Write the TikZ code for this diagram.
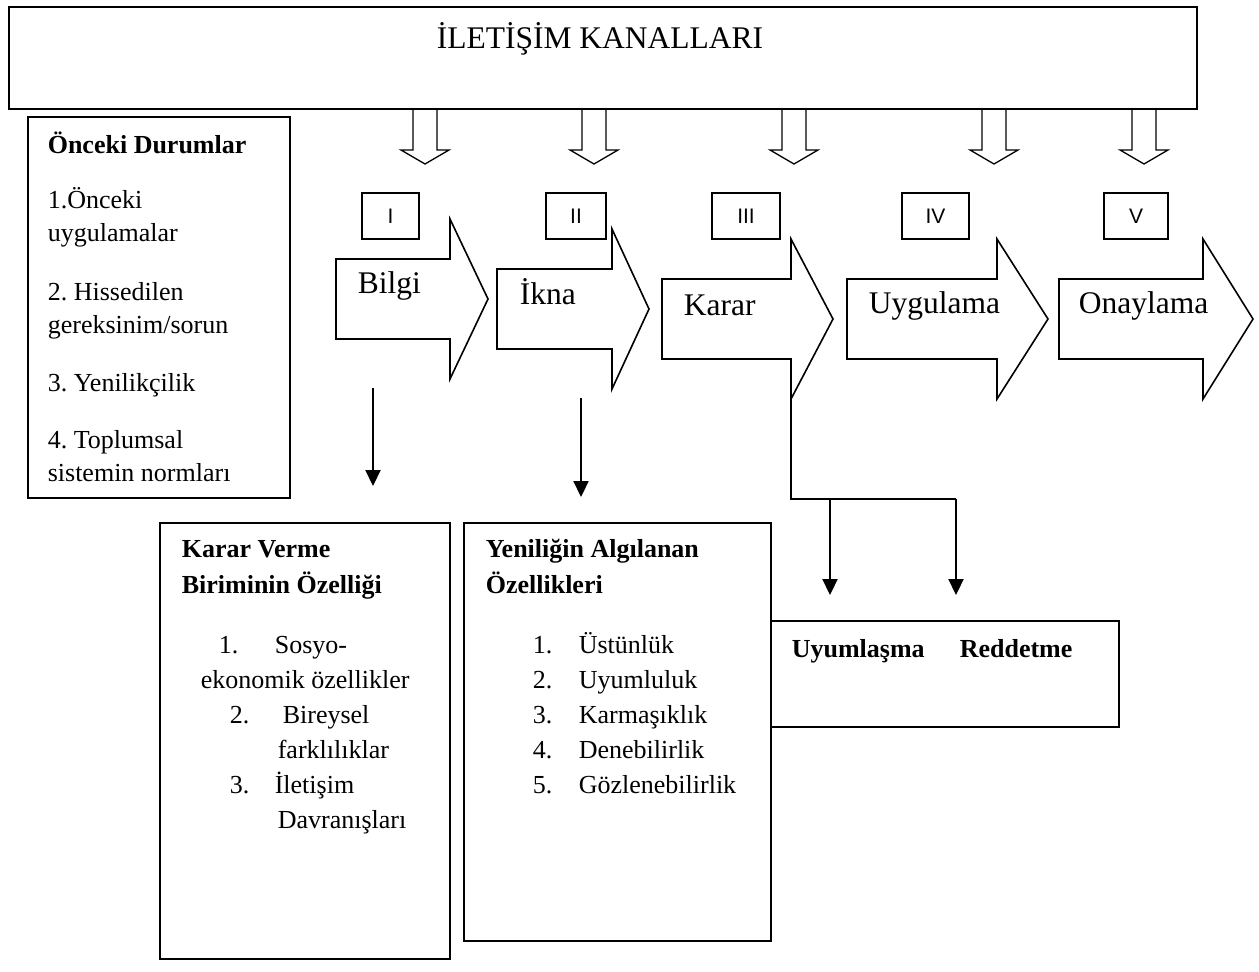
\documentclass[tikz,border=0pt]{standalone}
\usepackage{fontspec}
\setmainfont{Liberation Serif}
\newfontfamily\romanfont{Liberation Sans}
\usepackage{tikz}
\usetikzlibrary{arrows.meta}
\frenchspacing

\begin{document}
\begin{tikzpicture}[x=1pt, y=-1pt, line width=1.6pt,
    txt/.style={anchor=base west, inner sep=0pt, font=\fontsize{26}{30}\selectfont},
    boldtxt/.style={txt, font=\fontsize{26}{30}\selectfont\bfseries},
    bigtxt/.style={anchor=base west, inner sep=0pt, font=\fontsize{31.5}{36}\selectfont},
    numbox/.style={draw, line width=1.3pt, minimum height=46pt, inner sep=0pt, font=\romanfont\fontsize{21}{24}\selectfont},
    frame/.style={draw, anchor=north west, inner sep=0pt},
    link/.style={line width=2.2pt, -{Triangle[width=15pt, length=16pt]}}]
\useasboundingbox (0,0) rectangle (1259,972);

\node[frame, minimum width=1188pt, minimum height=102pt] (kanal) at (8,6) {};
\node[anchor=base, inner sep=0pt, font=\fontsize{31.5}{36}\selectfont] (baslik) at (600,48) {İLETİŞİM KANALLARI};

\foreach \x in {425,594,794,994,1144}
    \draw[line width=1.3pt] (\x-12,108) -- (\x-12,150) -- (\x-24,150) -- (\x,164) -- (\x+24,150) -- (\x+12,150) -- (\x+12,108);

\node[frame, minimum width=262pt, minimum height=381pt] (onceki) at (27,116) {};
\node[boldtxt] (d0) at (47,153) {Önceki Durumlar};
\node[txt] (d1) at (47,208) {1.Önceki};
\node[txt] (d1b) at (47,241) {uygulamalar};
\node[txt] (d2) at (47,300) {2. Hissedilen};
\node[txt] (d2b) at (47,333) {gereksinim/sorun};
\node[txt] (d3) at (47,391) {3. Yenilikçilik};
\node[txt] (d4) at (47,448) {4. Toplumsal};
\node[txt] (d4b) at (47,481) {sistemin normları};

\node[numbox, minimum width=57pt] (n1) at (390.5,216) {I};
\node[numbox, minimum width=60pt] (n2) at (576,216) {II};
\node[numbox, minimum width=68pt] (n3) at (746,216) {III};
\node[numbox, minimum width=67pt] (n4) at (935.5,216) {IV};
\node[numbox, minimum width=64pt] (n5) at (1136,216) {V};

\draw (336,259) -- (450,259) -- (450,219) -- (488,299) -- (450,379) -- (450,339) -- (336,339) -- cycle;
\draw (497,269) -- (612,269) -- (612,229) -- (649,309) -- (612,389) -- (612,349) -- (497,349) -- cycle;
\draw (662,279) -- (791,279) -- (791,239) -- (833,319) -- (791,399) -- (791,359) -- (662,359) -- cycle;
\draw (847,279) -- (997,279) -- (997,239) -- (1048,319) -- (997,399) -- (997,359) -- (847,359) -- cycle;
\draw (1059,279) -- (1203,279) -- (1203,239) -- (1253,319) -- (1203,399) -- (1203,359) -- (1059,359) -- cycle;
\node[bigtxt] (bilgi) at (357,293) {Bilgi};
\node[bigtxt] (ikna) at (519,304) {İkna};
\node[bigtxt] (karar) at (683,315) {Karar};
\node[bigtxt] (uygulama) at (868,313) {Uygulama};
\node[bigtxt] (onay) at (1078,313) {Onaylama};

\coordinate (bilgi-out) at (373,388);
\coordinate (bilgi-in) at (373,486);
\coordinate (ikna-out) at (581,398);
\coordinate (ikna-in) at (581,497);
\coordinate (karar-out) at (791,399);
\coordinate (uyum-j) at (830,499);
\coordinate (red-j) at (956,499);
\coordinate (uyum-in) at (830,595);
\coordinate (red-in) at (956,595);
\draw[link] (bilgi-out) -- (bilgi-in);
\draw[link] (ikna-out) -- (ikna-in);
\draw[line width=2.2pt] (karar-out) |- (red-j);
\draw[link] (uyum-j) -- (uyum-in);
\draw[link] (red-j) -- (red-in);

\node[frame, minimum width=290pt, minimum height=436pt] (birim) at (159,522) {};
\node[boldtxt] (b0) at (181,557) {Karar Verme};
\node[boldtxt] (b0b) at (181,593) {Biriminin Özelliği};
\node[txt] (b1) at (218,653) {1.};
\node[txt] (b1t) at (274,653) {Sosyo-};
\node[txt] (b1b) at (200,688) {ekonomik özellikler};
\node[txt] (b2) at (229,723) {2.};
\node[txt] (b2t) at (282,723) {Bireysel};
\node[txt] (b2b) at (277,758) {farklılıklar};
\node[txt] (b3) at (229,793) {3.};
\node[txt] (b3t) at (274,793) {İletişim};
\node[txt] (b3b) at (277,828) {Davranışları};

\node[frame, minimum width=307pt, minimum height=418pt] (algi) at (463,522) {};
\node[boldtxt] (a0) at (485,557) {Yeniliğin Algılanan};
\node[boldtxt] (a0b) at (485,593) {Özellikleri};
\foreach \t [count=\i] in {Üstünlük, Uyumluluk, Karmaşıklık, Denebilirlik, Gözlenebilirlik} {
    \node[txt] (a\i) at (532,618+35*\i) {\i.};
    \node[txt] (a\i t) at (578,618+35*\i) {\t};
}

\draw (algi.north east |- 0,621) -- (1119,621) -- (1119,727) -- (algi.north east |- 0,727);
\node[boldtxt] (uyum) at (791,657) {Uyumlaşma};
\node[boldtxt] (red) at (959,657) {Reddetme};
\end{tikzpicture}
\end{document}
